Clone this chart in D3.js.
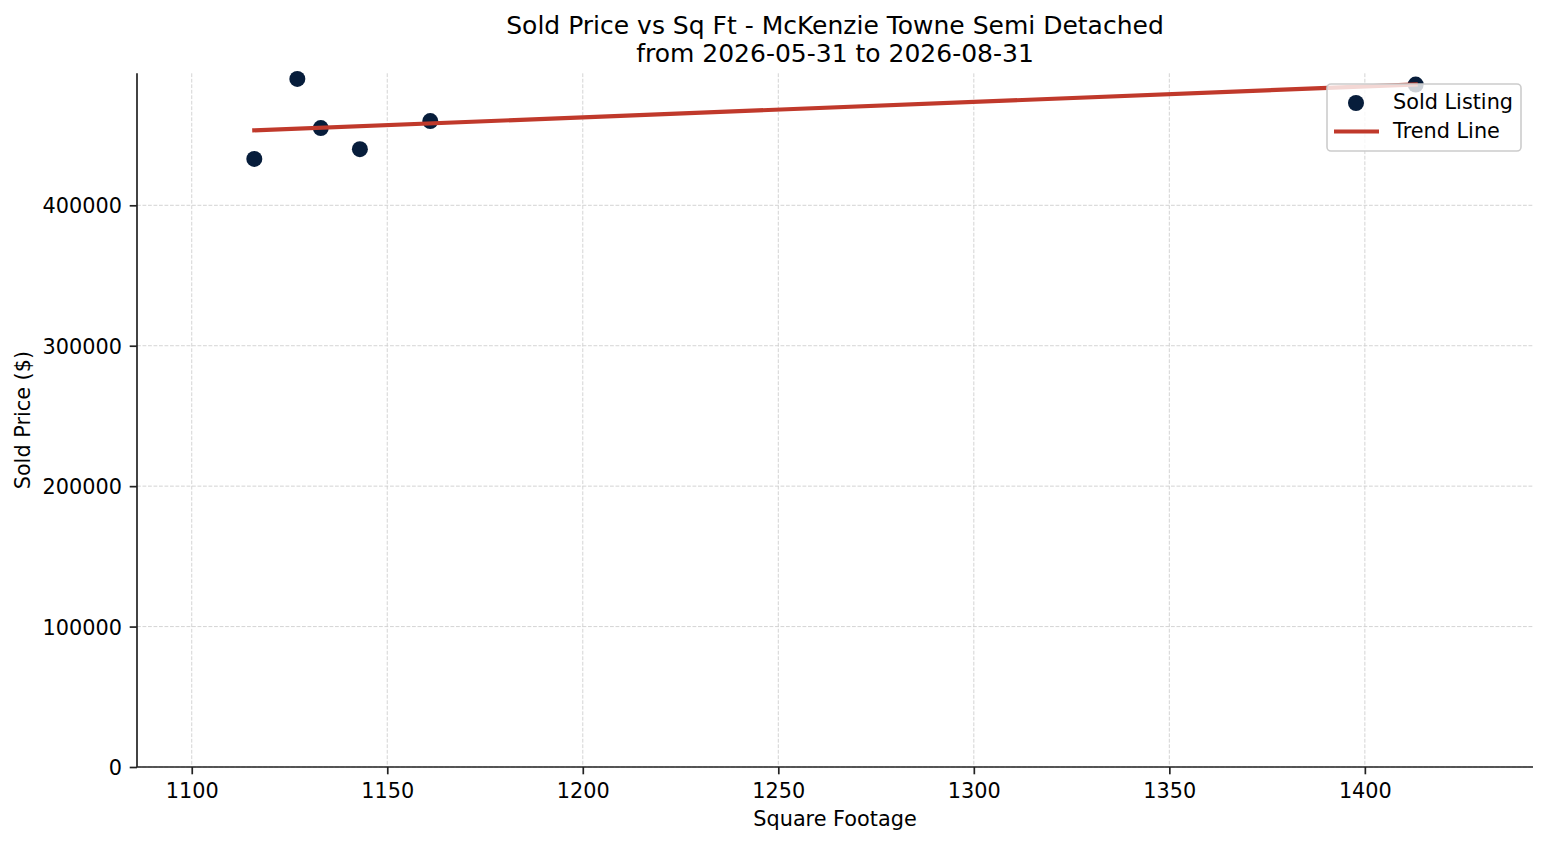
<!DOCTYPE html>
<html>
<head>
<meta charset="utf-8">
<script src="https://cdn.jsdelivr.net/npm/d3@7"></script>
<style>
  html, body { margin: 0; padding: 0; background: #fff; }
  svg { display: block; font-family: "DejaVu Sans", sans-serif; }
</style>
</head>
<body>
<svg id="chart" width="1547" height="845"></svg>
<script>
// ---- data ----
const sqft  = [1116, 1127, 1133, 1143, 1161, 1413];
const price = [433000, 490000, 455000, 440000, 460000, 486000];
const xTicks = [1100, 1150, 1200, 1250, 1300, 1350, 1400];
const yTicks = [0, 100000, 200000, 300000, 400000];
const titleLines = ["Sold Price vs Sq Ft - McKenzie Towne Semi Detached", "from 2026-05-31 to 2026-08-31"];
const legendLabels = ["Sold Listing", "Trend Line"];
const xDomain = [1086, 1443];
const yDomain = [0, 494000];

// ---- layout ----
const W = 1547, H = 845;
const m = { left: 137, top: 73.3, right: 14, bottom: 78 };
const iw = W - m.left - m.right, ih = H - m.top - m.bottom;
const pointColor = "#071d3b", trendColor = "#c0392b";
const fs = 20.8;

const svg = d3.select("#chart");
const g = svg.append("g").attr("transform", `translate(${m.left},${m.top})`);

const x = d3.scaleLinear().domain(xDomain).range([0, iw]);
const y = d3.scaleLinear().domain(yDomain).range([ih, 0]);

// grid
g.append("g").selectAll("line").data(xTicks).join("line")
  .attr("x1", d => x(d)).attr("x2", d => x(d)).attr("y1", 0).attr("y2", ih)
  .attr("stroke", "#cfcfcf").attr("stroke-width", 0.9).attr("stroke-dasharray", "3.8,1.7");
g.append("g").selectAll("line").data(yTicks).join("line")
  .attr("x1", 0).attr("x2", iw).attr("y1", d => y(d)).attr("y2", d => y(d))
  .attr("stroke", "#cfcfcf").attr("stroke-width", 0.9).attr("stroke-dasharray", "3.8,1.7");

// points
const pts = sqft.map((s, i) => ({ s, p: price[i] }));
g.append("g").selectAll("circle").data(pts).join("circle")
  .attr("cx", d => x(d.s)).attr("cy", d => y(d.p)).attr("r", 8)
  .attr("fill", pointColor);

// trend line (least squares fit of the data)
const mx = d3.mean(sqft), my = d3.mean(price);
const slope = d3.sum(sqft, (s, i) => (s - mx) * (price[i] - my)) / d3.sum(sqft, s => (s - mx) ** 2);
const icpt = my - slope * mx;
const ext = d3.extent(sqft);
g.append("line")
  .attr("x1", x(ext[0])).attr("y1", y(icpt + slope * ext[0]))
  .attr("x2", x(ext[1])).attr("y2", y(icpt + slope * ext[1]))
  .attr("stroke", trendColor).attr("stroke-width", 4.2).attr("stroke-linecap", "square");

// axes
const xAxis = g.append("g").attr("transform", `translate(0,${ih})`)
  .call(d3.axisBottom(x).tickValues(xTicks).tickFormat(d3.format("d")).tickSize(7.3).tickPadding(7.3));
const yAxis = g.append("g")
  .call(d3.axisLeft(y).tickValues(yTicks).tickFormat(d3.format("d")).tickSize(7.3).tickPadding(7.3));
[xAxis, yAxis].forEach(a => {
  a.select(".domain").attr("stroke", "#222").attr("stroke-width", 1.7);
  a.selectAll(".tick line").attr("stroke", "#222").attr("stroke-width", 1.7);
  a.selectAll(".tick text").attr("font-size", fs).attr("fill", "#000").attr("font-family", "DejaVu Sans");
});
xAxis.select(".domain").attr("d", `M0,0H${iw}`);
yAxis.select(".domain").attr("d", `M0,0V${ih}`);
xAxis.selectAll(".tick text").attr("dy", null).attr("y", 31);
yAxis.selectAll(".tick text").attr("dy", null).attr("dominant-baseline", null).attr("y", 7.5).attr("x", -15);

// axis labels
svg.append("text").attr("x", m.left + iw / 2).attr("y", 826).attr("text-anchor", "middle")
  .attr("font-size", fs).text("Square Footage");
svg.append("text").attr("transform", `translate(30,${m.top + ih / 2}) rotate(-90)`)
  .attr("text-anchor", "middle").attr("font-size", fs).text("Sold Price ($)");

// title
svg.append("g").selectAll("text").data(titleLines).join("text")
  .attr("x", m.left + iw / 2).attr("y", (d, i) => 34.3 + i * 28)
  .attr("text-anchor", "middle").attr("font-size", 25).attr("fill", "#000").text(d => d);

// legend
const lg = svg.append("g");
lg.append("rect").attr("x", 1327).attr("y", 84).attr("width", 194).attr("height", 67)
  .attr("rx", 4).attr("fill", "#fff").attr("fill-opacity", 0.8)
  .attr("stroke", "#cccccc").attr("stroke-width", 1.6);
lg.append("circle").attr("cx", 1356).attr("cy", 103).attr("r", 8).attr("fill", pointColor);
lg.append("line").attr("x1", 1334).attr("x2", 1379).attr("y1", 131.5).attr("y2", 131.5)
  .attr("stroke", trendColor).attr("stroke-width", 4.2);
lg.selectAll("text.l").data(legendLabels).join("text").attr("class", "l")
  .attr("x", 1393).attr("y", (d, i) => 109 + i * 29)
  .attr("font-size", fs).attr("fill", "#000").text(d => d);
</script>
</body>
</html>
